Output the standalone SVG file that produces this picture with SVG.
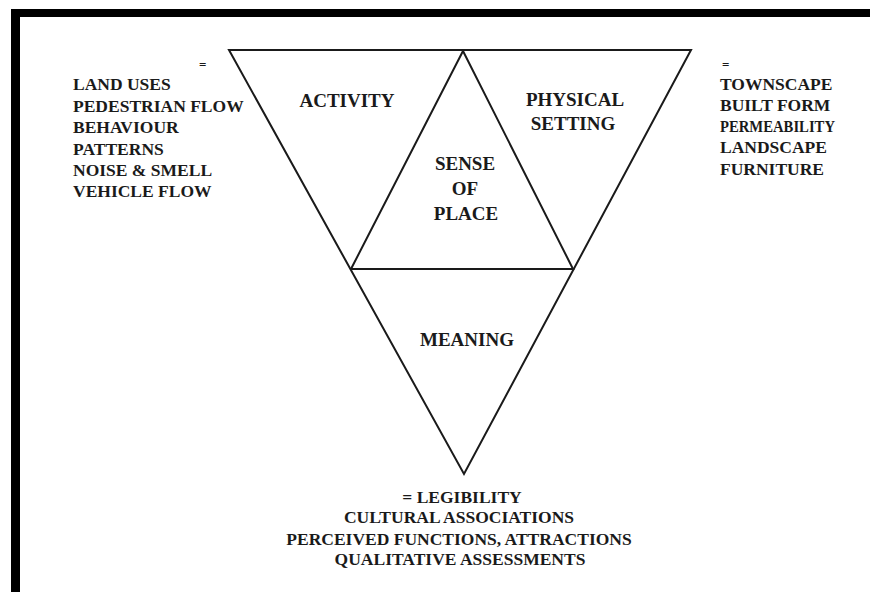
<svg xmlns="http://www.w3.org/2000/svg" width="870" height="592" viewBox="0 0 870 592">
<style>
.t{font-family:"Liberation Serif","Times New Roman",serif;font-weight:bold;fill:#1a1a1a;font-size:17.5px}
.c{text-anchor:middle}
.big{font-size:19px}
.eq{font-size:13px}
.ln{fill:none;stroke:#1a1a1a;stroke-width:2;stroke-linejoin:miter}
</style>
<rect x="0" y="0" width="870" height="592" fill="#ffffff"/>
<g id="frame">
<rect x="11" y="9" width="859" height="8" fill="#000"/>
<rect x="11" y="9" width="9" height="583" fill="#000"/>
</g>
<g id="connectors">
<polygon class="ln" points="229,50 691,50 464,474"/>
<polyline class="ln" points="351,269 463,51 573,269 351,269"/>
</g>
<g id="activity">
<text class="t big c" x="347" y="107">ACTIVITY</text>
</g>
<g id="physical-setting">
<text class="t big c" x="575" y="106">PHYSICAL</text>
<text class="t big c" x="573" y="130">SETTING</text>
</g>
<g id="sense-of-place">
<text class="t big c" x="465" y="170">SENSE</text>
<text class="t big c" x="465" y="195">OF</text>
<text class="t big c" x="466" y="220">PLACE</text>
</g>
<g id="meaning">
<text class="t big c" x="467" y="346">MEANING</text>
</g>
<g id="activity-list">
<text class="t eq" x="199" y="69">=</text>
<text class="t" x="73" y="90">LAND USES</text>
<text class="t" x="73" y="112">PEDESTRIAN FLOW</text>
<text class="t" x="73" y="133">BEHAVIOUR</text>
<text class="t" x="73" y="155">PATTERNS</text>
<text class="t" x="73" y="176">NOISE &amp; SMELL</text>
<text class="t" x="73" y="197">VEHICLE FLOW</text>
</g>
<g id="setting-list">
<text class="t eq" x="722" y="69">=</text>
<text class="t" x="720" y="90">TOWNSCAPE</text>
<text class="t" x="720" y="111">BUILT FORM</text>
<text class="t" x="720" y="132" textLength="115" lengthAdjust="spacingAndGlyphs">PERMEABILITY</text>
<text class="t" x="720" y="153">LANDSCAPE</text>
<text class="t" x="720" y="175">FURNITURE</text>
</g>
<g id="meaning-list">
<text class="t c" x="462" y="503">= LEGIBILITY</text>
<text class="t c" x="459" y="523">CULTURAL ASSOCIATIONS</text>
<text class="t c" x="459" y="545">PERCEIVED FUNCTIONS, ATTRACTIONS</text>
<text class="t c" x="460" y="565">QUALITATIVE ASSESSMENTS</text>
</g>
</svg>
